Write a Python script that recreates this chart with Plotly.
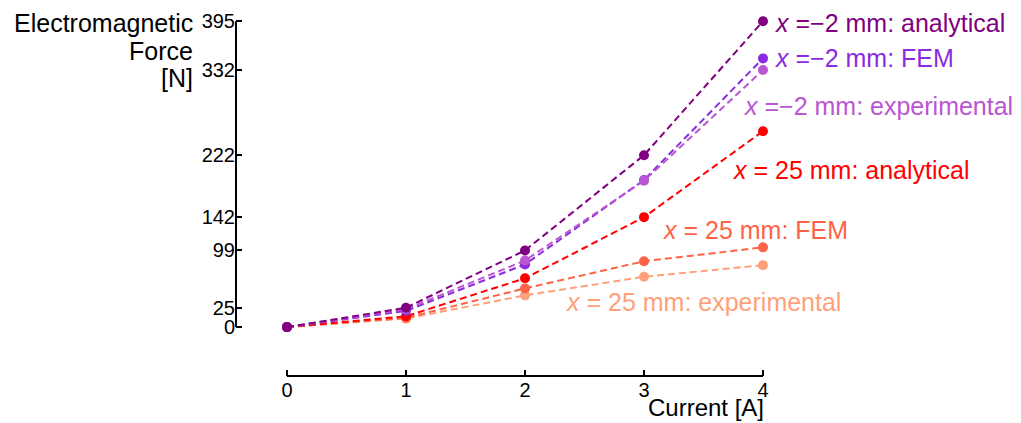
import plotly.graph_objects as go

current = [0, 1, 2, 3, 4]

neg2_analytical = [0, 25, 99, 222, 395]
neg2_fem = [0, 21, 81, 190, 347]
neg2_experimental = [0, 23, 86, 189, 332]
p25_analytical = [0, 14, 63, 142, 253]
p25_fem = [0, 12, 50, 85, 103]
p25_experimental = [0, 11, 41, 65, 80]

y_ticks = [0, 25, 99, 142, 222, 332, 395]
x_ticks = [0, 1, 2, 3, 4]

series_names = [
    "<i>x</i> =\u22122 mm: analytical",
    "<i>x</i> =\u22122 mm: FEM",
    "<i>x</i> =\u22122 mm: experimental",
    "<i>x</i> = 25 mm: analytical",
    "<i>x</i> = 25 mm: FEM",
    "<i>x</i> = 25 mm: experimental",
]
series_values = [neg2_analytical, neg2_fem, neg2_experimental,
                 p25_analytical, p25_fem, p25_experimental]
colors = ["#800080", "#8a2be2", "#ba55d3", "#ff0000", "#ff6347", "#ffa07a"]
# label anchor positions (data coords)
label_pos = [(4.09, 393), (4.09, 348), (3.83, 286), (3.74, 203), (3.15, 126), (2.34, 32)]
# drawing order (indices into the lists above), last is on top
draw_order = [5, 4, 3, 1, 2, 0]

title_lines = ["Electromagnetic", "Force", "[N]"]
x_title = "Current [A]"

W, H = 1021, 423
ml, mr, mt, mb = 236, 21, 10, 47
px_per_x = 119.0
x0_px = 287.0
y0_px = 326.7
px_per_y = (326.7 - 18.3) / 395.0

xmin = -(x0_px - ml) / px_per_x
xmax = ((W - mr) - x0_px) / px_per_x
ymax = (y0_px - mt) / px_per_y
ymin = -((H - mb) - y0_px) / px_per_y

FONT = "Liberation Sans, Arial, sans-serif"
LABEL_SIZE = 25
TICK_SIZE = 20

fig = go.Figure()
for i in draw_order:
    col = colors[i]
    fig.add_trace(go.Scatter(
        x=current, y=series_values[i], mode="lines+markers", name=series_names[i],
        line=dict(color=col, width=2, dash="7px,4px"),
        marker=dict(color=col, size=10),
        showlegend=False, cliponaxis=False, hoverinfo="skip",
    ))

for name, (lx, ly), col in zip(series_names, label_pos, colors):
    fig.add_annotation(x=lx, y=ly, xref="x", yref="y", text=name, showarrow=False,
                       xanchor="left", yanchor="middle", borderpad=0,
                       font=dict(family=FONT, size=LABEL_SIZE, color=col))

# spines
fig.add_shape(type="line", xref="paper", yref="y", x0=0, x1=0, y0=0, y1=395,
              line=dict(color="black", width=2))
fig.add_shape(type="line", xref="x", yref="paper", x0=0, x1=4, y0=0, y1=0,
              line=dict(color="black", width=2))

plot_h = H - mt - mb
def ypaper(py):
    return ((H - mb) - py) / plot_h

title_mid_px = [20, 48, 76]
for line, py in zip(title_lines, title_mid_px):
    fig.add_annotation(x=0, xref="paper", xshift=-(236 - 194), y=ypaper(py), yref="paper",
                       text=line, showarrow=False, borderpad=0,
                       xanchor="right", yanchor="middle", align="right",
                       font=dict(family=FONT, size=LABEL_SIZE, color="black"))
fig.add_annotation(x=4, xref="x", y=ypaper(408), yref="paper",
                   text=x_title, showarrow=False, borderpad=0,
                   xanchor="right", yanchor="middle", xshift=2,
                   font=dict(family=FONT, size=24, color="black"))

fig.update_layout(
    width=W, height=H,
    margin=dict(l=ml, r=mr, t=mt, b=mb),
    paper_bgcolor="white", plot_bgcolor="white",
    font=dict(family=FONT, color="black"),
    hovermode=False,
    xaxis=dict(range=[xmin, xmax], tickvals=x_ticks, ticks="inside", ticklen=6,
               tickwidth=1.5, tickcolor="black", showgrid=False, zeroline=False,
               showline=False, tickfont=dict(size=TICK_SIZE, family=FONT)),
    yaxis=dict(range=[ymin, ymax], tickvals=y_ticks, ticks="inside", ticklen=6,
               tickwidth=1.5, tickcolor="black", showgrid=False, zeroline=False,
               showline=False, tickfont=dict(size=TICK_SIZE, family=FONT)),
)

fig.write_html("out.html", config={"displayModeBar": False},
               post_script="document.body.style.margin='0px';")
